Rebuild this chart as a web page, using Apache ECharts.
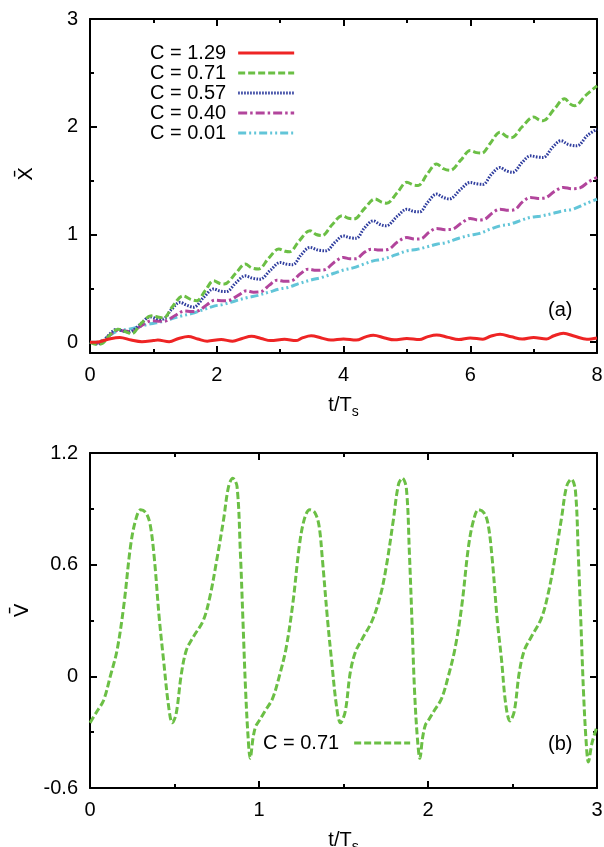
<!DOCTYPE html>
<html><head><meta charset="utf-8">
<script src="https://cdn.jsdelivr.net/npm/echarts@6/dist/echarts.min.js"></script>
<style>html,body{margin:0;padding:0;background:#fff}#c{width:604px;height:847px}</style>
</head><body><div id="c"></div>
<script>
// ---- Panel (a): X-bar vs t/Ts ----
const namesA = ['C = 1.29', 'C = 0.71', 'C = 0.57', 'C = 0.40', 'C = 0.01'];
const xTicksA = [0, 2, 4, 6, 8];
const yTicksA = [0, 1, 2, 3];
const yMinorA = [0.5, 1.5, 2.5];

const xC129 = [[0,0],[0.15,0.005],[0.3,0.03],[0.47,0.045],[0.65,0.02],[0.82,0.005],[1.0,0.015],[1.07,0.02],[1.25,0.005],[1.4,0.035],[1.55,0.053],[1.7,0.03],[1.85,0.01],[2.07,0.025],[2.25,0.01],[2.4,0.035],[2.55,0.055],[2.7,0.035],[2.85,0.015],[3.07,0.028],[3.25,0.015],[3.35,0.04],[3.49,0.06],[3.65,0.04],[3.8,0.02],[4.0,0.03],[4.2,0.02],[4.35,0.05],[4.47,0.065],[4.65,0.04],[4.8,0.022],[5.0,0.035],[5.2,0.025],[5.32,0.05],[5.47,0.068],[5.65,0.045],[5.82,0.025],[6.0,0.04],[6.2,0.028],[6.32,0.055],[6.47,0.074],[6.65,0.05],[6.82,0.03],[7.0,0.045],[7.2,0.03],[7.32,0.06],[7.47,0.083],[7.65,0.055],[7.84,0.028],[8.0,0.04]];

const xC071 = [[0,0],[0.1,-0.02],[0.2,-0.01],[0.3,0.06],[0.45,0.12],[0.55,0.10],[0.66,0.08],[0.8,0.17],[0.97,0.245],[1.07,0.235],[1.16,0.225],[1.3,0.33],[1.47,0.43],[1.58,0.40],[1.68,0.385],[1.82,0.48],[1.95,0.57],[2.05,0.545],[2.12,0.54],[2.3,0.64],[2.45,0.725],[2.55,0.69],[2.66,0.68],[2.82,0.78],[2.98,0.865],[3.08,0.845],[3.15,0.84],[3.3,0.94],[3.47,1.035],[3.57,1.0],[3.66,0.99],[3.82,1.09],[3.98,1.175],[4.08,1.15],[4.17,1.145],[4.33,1.24],[4.5,1.33],[4.6,1.3],[4.68,1.29],[4.85,1.39],[5.0,1.485],[5.1,1.46],[5.18,1.455],[5.32,1.56],[5.47,1.655],[5.58,1.61],[5.68,1.595],[5.85,1.69],[6.0,1.78],[6.1,1.76],[6.18,1.755],[6.32,1.85],[6.47,1.95],[6.57,1.91],[6.65,1.90],[6.82,2.0],[7.0,2.09],[7.1,2.06],[7.15,2.055],[7.32,2.16],[7.49,2.26],[7.58,2.21],[7.65,2.195],[7.82,2.29],[8.0,2.38]];

const xC057 = [[0,0],[0.1,-0.015],[0.2,0.0],[0.3,0.07],[0.42,0.12],[0.52,0.105],[0.62,0.095],[0.78,0.16],[0.95,0.235],[1.05,0.22],[1.15,0.215],[1.28,0.30],[1.42,0.37],[1.52,0.345],[1.63,0.325],[1.8,0.42],[1.95,0.495],[2.05,0.475],[2.15,0.47],[2.3,0.55],[2.45,0.616],[2.56,0.595],[2.68,0.585],[2.85,0.67],[3.0,0.74],[3.1,0.725],[3.2,0.72],[3.33,0.81],[3.47,0.88],[3.6,0.855],[3.72,0.848],[3.87,0.93],[4.0,0.987],[4.1,0.97],[4.2,0.965],[4.33,1.06],[4.47,1.127],[4.57,1.095],[4.67,1.08],[4.85,1.17],[5.0,1.235],[5.1,1.215],[5.2,1.21],[5.33,1.30],[5.47,1.375],[5.57,1.345],[5.67,1.33],[5.85,1.42],[6.0,1.483],[6.1,1.47],[6.2,1.465],[6.33,1.555],[6.47,1.622],[6.57,1.59],[6.67,1.578],[6.82,1.67],[6.95,1.73],[7.05,1.72],[7.15,1.715],[7.3,1.81],[7.43,1.87],[7.55,1.835],[7.68,1.823],[7.85,1.92],[8.0,1.978]];

const xC040 = [[0,0],[0.1,-0.01],[0.2,0.01],[0.3,0.06],[0.44,0.11],[0.55,0.105],[0.65,0.10],[0.8,0.15],[0.98,0.2],[1.1,0.195],[1.2,0.2],[1.35,0.25],[1.49,0.29],[1.6,0.285],[1.7,0.29],[1.85,0.35],[1.97,0.39],[2.1,0.385],[2.2,0.39],[2.35,0.44],[2.47,0.477],[2.58,0.465],[2.7,0.47],[2.83,0.53],[2.95,0.575],[3.08,0.565],[3.18,0.57],[3.32,0.635],[3.44,0.678],[3.57,0.668],[3.7,0.672],[3.85,0.74],[4.0,0.787],[4.1,0.775],[4.2,0.775],[4.32,0.83],[4.44,0.864],[4.57,0.855],[4.7,0.86],[4.85,0.93],[5.0,0.972],[5.12,0.958],[5.22,0.96],[5.35,1.02],[5.47,1.056],[5.6,1.045],[5.72,1.05],[5.87,1.11],[6.0,1.149],[6.12,1.135],[6.22,1.14],[6.35,1.2],[6.47,1.235],[6.6,1.225],[6.7,1.23],[6.82,1.3],[6.95,1.344],[7.07,1.335],[7.18,1.34],[7.33,1.40],[7.47,1.437],[7.6,1.425],[7.72,1.43],[7.87,1.49],[8.0,1.53]];

const xC001 = [[0,0],[0.1,0.0],[0.2,0.02],[0.3,0.06],[0.44,0.105],[0.6,0.12],[0.75,0.14],[0.92,0.167],[1.05,0.18],[1.2,0.2],[1.32,0.225],[1.44,0.244],[1.6,0.265],[1.8,0.305],[1.97,0.337],[2.1,0.35],[2.3,0.385],[2.49,0.415],[2.65,0.435],[2.85,0.47],[3.0,0.495],[3.12,0.508],[3.3,0.545],[3.5,0.58],[3.65,0.6],[3.85,0.64],[4.0,0.67],[4.15,0.69],[4.32,0.725],[4.47,0.755],[4.62,0.77],[4.82,0.81],[5.0,0.848],[5.15,0.86],[5.32,0.885],[5.47,0.91],[5.62,0.925],[5.82,0.965],[6.0,0.994],[6.15,1.01],[6.32,1.05],[6.47,1.08],[6.62,1.095],[6.8,1.13],[6.94,1.158],[7.1,1.17],[7.3,1.195],[7.47,1.22],[7.62,1.235],[7.82,1.285],[8.0,1.328]];

// ---- Panel (b): V-bar vs t/Ts ----
const nameB = 'C = 0.71';
const xTicksB = [0, 1, 2, 3];
const yTicksB = [-0.6, 0, 0.6, 1.2];
const vC071 = [[0.00,-0.25],[0.04,-0.19],[0.08,-0.13],[0.12,0.0],[0.16,0.14],[0.20,0.38],[0.24,0.70],[0.27,0.84],[0.30,0.895],[0.33,0.88],[0.355,0.82],[0.38,0.64],[0.41,0.31],[0.435,0.09],[0.465,-0.16],[0.487,-0.25],[0.51,-0.20],[0.54,0.01],[0.57,0.14],[0.61,0.21],[0.67,0.30],[0.71,0.43],[0.75,0.625],[0.79,0.84],[0.82,1.02],[0.845,1.065],[0.87,1.02],[0.89,0.66],[0.905,0.30],[0.92,-0.06],[0.935,-0.32],[0.948,-0.44],[0.965,-0.33],[0.98,-0.27],
[1.00,-0.24],[1.04,-0.18],[1.08,-0.12],[1.12,0.0],[1.16,0.15],[1.20,0.39],[1.24,0.71],[1.27,0.85],[1.30,0.895],[1.33,0.88],[1.355,0.81],[1.375,0.63],[1.405,0.31],[1.43,0.08],[1.46,-0.17],[1.482,-0.25],[1.51,-0.19],[1.54,0.02],[1.57,0.13],[1.61,0.20],[1.67,0.30],[1.72,0.44],[1.755,0.60],[1.795,0.84],[1.825,1.03],[1.848,1.065],[1.872,1.01],[1.89,0.66],[1.905,0.30],[1.92,-0.07],[1.937,-0.33],[1.952,-0.44],[1.968,-0.33],[1.985,-0.26],
[2.00,-0.24],[2.04,-0.18],[2.08,-0.12],[2.12,0.0],[2.16,0.15],[2.20,0.38],[2.24,0.70],[2.27,0.84],[2.298,0.895],[2.33,0.88],[2.355,0.82],[2.38,0.63],[2.41,0.30],[2.435,0.09],[2.46,-0.15],[2.485,-0.24],[2.51,-0.19],[2.54,0.02],[2.57,0.14],[2.61,0.21],[2.67,0.31],[2.71,0.44],[2.75,0.63],[2.79,0.85],[2.82,1.02],[2.848,1.06],[2.872,1.0],[2.89,0.64],[2.905,0.28],[2.92,-0.08],[2.935,-0.34],[2.949,-0.46],[2.97,-0.36],[3.00,-0.27]];

const FONT = 'Liberation Sans';
const lab = (show, margin, vals) => ({show, margin, fontSize: 20, color: '#000', fontFamily: FONT, customValues: vals});
const line = {show: true, onZero: false, lineStyle: {color: '#000', width: 2}};

function xAxis(grid, pos, min, max, interval, label, name, nameGap) {
  return {
    gridIndex: grid, type: 'value', position: pos, min, max, interval,
    axisLine: line, splitLine: {show: false},
    axisTick: {show: true, inside: true, length: 7, lineStyle: {color: '#000', width: 2}},
    minorTick: {show: true, splitNumber: 2, length: 4, lineStyle: {color: '#000', width: 2}},
    axisLabel: label,
    name: name || '', nameLocation: 'middle', nameGap: nameGap || 0,
    nameTextStyle: {fontSize: 20, color: '#000', fontFamily: FONT,
      rich: {s: {fontSize: 14, color: '#000', fontFamily: FONT, padding: [14, 0, 0, 0]}}}
  };
}
function yAxisCustom(grid, pos, min, max, ticks, len, showLine, label, name, nameGap, shift) {
  return {
    gridIndex: grid, type: 'value', position: pos, min, max,
    axisLine: {show: showLine, onZero: false, lineStyle: {color: '#000', width: 2}}, splitLine: {show: false},
    axisTick: {show: true, inside: true, length: len, customValues: ticks, lineStyle: {color: '#000', width: 2}},
    axisLabel: label,
    name: name || '', nameLocation: 'middle', nameGap: nameGap || 0,
    nameTextStyle: {fontSize: 20, color: '#000', fontFamily: 'DejaVu Sans', padding: [0, 0, 0, shift || 0]}
  };
}
function yAxisReg(grid, pos, min, max, interval, label, name, nameGap, shift) {
  return {
    gridIndex: grid, type: 'value', position: pos, min, max, interval,
    axisLine: line, splitLine: {show: false},
    axisTick: {show: true, inside: true, length: 7, lineStyle: {color: '#000', width: 2}},
    minorTick: {show: true, splitNumber: 2, length: 4, lineStyle: {color: '#000', width: 2}},
    axisLabel: label,
    name: name || '', nameLocation: 'middle', nameGap: nameGap || 0,
    nameTextStyle: {fontSize: 20, color: '#000', fontFamily: 'DejaVu Sans', padding: [0, 0, 0, shift || 0]}
  };
}

const styles = [
  {color: '#ee2424', type: 'solid'},
  {color: '#6bbf45', type: [7, 3]},
  {color: '#2f3d9e', type: [1.6, 1.4]},
  {color: '#b2459c', type: [9, 3, 2.5, 3]},
  {color: '#62c5d8', type: [8, 3, 2, 3, 2, 3]}
];
const dataA = [xC129, xC071, xC057, xC040, xC001];

const series = dataA.map((d, i) => ({
  type: 'line', name: namesA[i], data: d, xAxisIndex: 0, yAxisIndex: 0,
  symbol: 'none', showSymbol: false, smooth: 0.35, animation: false,
  lineStyle: {color: styles[i].color, width: 3, type: styles[i].type, cap: 'butt'},
  itemStyle: {color: styles[i].color}, z: 10 - i
}));
series.push({
  type: 'line', name: nameB, data: vC071, xAxisIndex: 2, yAxisIndex: 4,
  symbol: 'none', showSymbol: false, smooth: 0.35, animation: false,
  lineStyle: {color: '#6bbf45', width: 3, type: [7, 3], cap: 'butt'},
  itemStyle: {color: '#6bbf45'}
});

const legendCommon = {
  orient: 'vertical', align: 'right', itemWidth: 56, itemHeight: 14, itemGap: 0,
  selectedMode: false, padding: 0,
  itemStyle: {opacity: 0, borderWidth: 0},
  lineStyle: {width: 3}
};

const option = {
  backgroundColor: '#fff',
  animation: false,
  title: [
    {text: '(a)', left: 548, top: 300, padding: 0, textStyle: {fontSize: 20, fontWeight: 'normal', color: '#000', fontFamily: FONT}},
    {text: '(b)', left: 548, top: 734, padding: 0, textStyle: {fontSize: 20, fontWeight: 'normal', color: '#000', fontFamily: FONT}}
  ],
  legend: [
    Object.assign({data: namesA, left: 150, top: 43,
      textStyle: {fontSize: 20, color: '#000', fontFamily: FONT, lineHeight: 20, padding: [0, 7, 0, 0]}}, legendCommon),
    Object.assign({data: [nameB], left: 263, top: 733,
      textStyle: {fontSize: 20, color: '#000', fontFamily: FONT, lineHeight: 20, padding: [0, 10, 0, 0]}}, legendCommon)
  ],
  grid: [
    {left: 90, right: 7, top: 19, height: 334, containLabel: false, outerBoundsMode: 'none'},
    {left: 90, right: 7, top: 453, height: 335, containLabel: false, outerBoundsMode: 'none'}
  ],
  xAxis: [
    xAxis(0, 'bottom', 0, 8, 2, lab(true, 12), 't/T{s|s}', 38),
    xAxis(0, 'top', 0, 8, 2, lab(false, 0)),
    xAxis(1, 'bottom', 0, 3, 1, lab(true, 12), 't/T{s|s}', 38),
    xAxis(1, 'top', 0, 3, 1, lab(false, 0))
  ],
  yAxis: [
    yAxisCustom(0, 'left', -0.1, 3, yTicksA, 7, true, lab(true, 12, yTicksA), 'X\u0304', 53, 24),
    yAxisCustom(0, 'left', -0.1, 3, yMinorA, 4, false, lab(false, 0)),
    yAxisCustom(0, 'right', -0.1, 3, yTicksA, 7, true, lab(false, 0)),
    yAxisCustom(0, 'right', -0.1, 3, yMinorA, 4, false, lab(false, 0)),
    yAxisReg(1, 'left', -0.6, 1.2, 0.6, lab(true, 12), 'V\u0304', 53, 20),
    yAxisReg(1, 'right', -0.6, 1.2, 0.6, lab(false, 0))
  ],
  series
};
const chart = echarts.init(document.getElementById('c'), null, {renderer: 'canvas'});
chart.setOption(option);
</script></body></html>
